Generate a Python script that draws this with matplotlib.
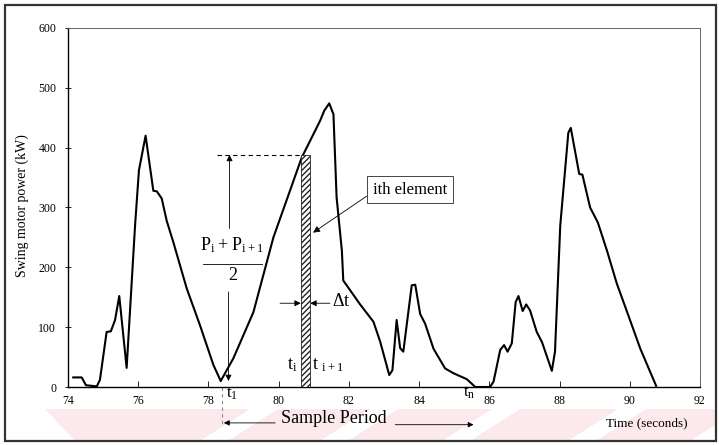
"""
Swing motor power trace with the trapezoidal-element sketch used to
integrate energy over one sample period.
"""

import matplotlib.pyplot as plt
from matplotlib.patches import Rectangle, Polygon

plt.rcParams["font.family"] = ["Liberation Serif", "DejaVu Serif"]
plt.rcParams["mathtext.fontset"] = "custom"
plt.rcParams["mathtext.rm"] = "Liberation Serif"

# ── data ─────────────────────────────────────────────────────────────────────
time_s = [74.15, 74.39, 74.51, 74.82, 74.91, 75.10, 75.22, 75.34, 75.46, 75.67,
          75.91, 76.02, 76.21, 76.43, 76.53, 76.67, 76.81, 77.00, 77.38, 77.76,
          78.14, 78.35, 78.71, 79.28, 79.85, 80.66, 80.90, 81.18, 81.30, 81.44,
          81.56, 81.65, 81.80, 81.84, 82.32, 82.70, 82.89, 83.15, 83.24, 83.36,
          83.46, 83.55, 83.79, 83.89, 84.03, 84.17, 84.41, 84.74, 84.98, 85.36,
          85.60, 86.02, 86.12, 86.31, 86.42, 86.52, 86.64, 86.75, 86.83, 86.95,
          87.05, 87.16, 87.35, 87.50, 87.78, 87.87, 88.02, 88.25, 88.32, 88.56,
          88.65, 88.87, 89.09, 89.35, 89.63, 89.92, 90.30, 90.75]
power_kw = [16, 16, 3, 1, 12, 92, 93, 112, 152, 32,
            270, 362, 420, 328, 327, 315, 278, 242, 165, 103,
            37, 10, 48, 125, 250, 384, 412, 445, 462, 474,
            456, 317, 228, 178, 138, 109, 76, 20, 28, 112,
            65, 59, 170, 171, 122, 106, 64, 31, 23, 13,
            0, 0, 9, 62, 70, 59, 73, 142, 152, 127,
            138, 128, 92, 75, 27, 59, 270, 425, 433, 356,
            355, 300, 275, 228, 173, 126, 64, 2]

x_ticks = [74, 76, 78, 80, 82, 84, 86, 88, 90, 92]
y_ticks = [0, 100, 200, 300, 400, 500, 600]

# highlighted integration element
elem_t0, elem_dt, elem_p = 80.65, 0.23, 388
t_start, t_end = 78.38, 85.45

W, H = 719, 445
fig = plt.figure(figsize=(W / 100, H / 100), dpi=100)


def fx(px):
    return px / W


def fy(py):
    return 1 - py / H


def add_bg(verts, color):
    fig.patches.append(Polygon([(fx(x), fy(y)) for x, y in verts], closed=True,
                               transform=fig.transFigure, facecolor=color,
                               edgecolor="none", zorder=-2))


# faint striped band along the bottom edge
band_top, band_bot = 409, 441
add_bg([(6, band_top), (715, band_top), (715, band_bot), (6, band_bot)], "#fce9ec")
add_bg([(6, band_top), (45, band_top), (75, band_bot), (6, band_bot)], "white")
for bx in [200, 320, 442, 568, 690]:
    add_bg([(bx, band_bot), (bx + 28, band_bot), (bx + 78, band_top), (bx + 50, band_top)],
           "white")

# outer frame
fig.patches.append(Rectangle((fx(5), fy(441)), fx(711), 436 / H,
                             transform=fig.transFigure, fill=False,
                             edgecolor="#333333", linewidth=1.6, zorder=-1))

ax = fig.add_axes([fx(68), fy(387), fx(700) - fx(68), fy(28) - fy(387)])
ax.set_facecolor("none")

ax.plot(time_s, power_kw, color="black", linewidth=1.5, zorder=3)

# trapezoid element
ax.bar(elem_t0, elem_p, width=elem_dt, align="edge", facecolor="white",
       edgecolor="#222222", hatch="//////", linewidth=0.6, zorder=4)
ax.plot([78.24, elem_t0], [elem_p, elem_p], color="black", linestyle=(0, (4, 3)),
        linewidth=0.8, zorder=2)

arrow = dict(arrowstyle="-|>", color="black", linewidth=0.6,
             mutation_scale=9, shrinkA=0, shrinkB=0)
ax.annotate("", xy=(78.6, elem_p), xytext=(78.6, 265), arrowprops=arrow)
ax.annotate("", xy=(78.57, 10), xytext=(78.57, 159), arrowprops=arrow)

ax.text(78.69, 237, r"$\mathregular{P_i + P_{i+1}}$", ha="center", va="center",
        fontsize=13)
ax.plot([77.85, 79.53], [205, 205], color="black", linewidth=0.6)
ax.text(78.69, 186, "2", ha="center", va="center", fontsize=13)

ax.annotate("ith element", xy=(80.98, 258), xytext=(83.74, 330),
            ha="center", va="center", fontsize=12,
            bbox=dict(boxstyle="square,pad=0.35", facecolor="white",
                      edgecolor="#444444", linewidth=0.7),
            arrowprops=dict(arrowstyle="-|>", color="black", linewidth=0.6,
                            mutation_scale=10, shrinkA=0, shrinkB=0,
                            relpos=(0.0, 0.35)))

ax.annotate("", xy=(elem_t0 - 0.02, 140), xytext=(80.04, 140), arrowprops=arrow)
ax.annotate("", xy=(elem_t0 + elem_dt + 0.02, 140), xytext=(81.46, 140), arrowprops=arrow)
ax.text(81.52, 143, r"$\mathregular{\Delta t}$", ha="left", va="center", fontsize=13)

ax.text(80.38, 37, r"$\mathregular{t_i}$", ha="center", va="center", fontsize=13)
ax.text(81.42, 37, r"$\mathregular{t_{\ i+1}}$", ha="center", va="center", fontsize=13)

ax.text(78.67, -12, r"$\mathregular{t_1}$", ha="center", va="center", fontsize=12)
ax.text(85.42, -10, r"$\mathregular{t_n}$", ha="center", va="center", fontsize=12)

# sample period marker below the axis
ax.plot([t_start, t_start], [0, -63], color="#888888", linestyle=(0, (3, 3)),
        linewidth=0.8, clip_on=False)
ax.text(81.58, -52, "Sample Period", ha="center", va="center", fontsize=13)
ax.annotate("", xy=(78.44, -60), xytext=(79.9, -60),
            arrowprops=dict(arrowstyle="-|>", color="black", linewidth=0.6,
                            mutation_scale=8, shrinkA=0, shrinkB=0),
            annotation_clip=False)
ax.annotate("", xy=(t_end + 0.1, -63), xytext=(83.32, -63),
            arrowprops=dict(arrowstyle="-|>", color="black", linewidth=0.6,
                            mutation_scale=8, shrinkA=0, shrinkB=0),
            annotation_clip=False)

ax.text(91.64, -60, "Time (seconds)", ha="right", va="center", fontsize=9.5)

ax.set_xlim(74, 92)
ax.set_ylim(0, 600)
ax.set_xticks(x_ticks)
ax.set_yticks(y_ticks)
ax.tick_params(axis="x", direction="in", length=4, width=0.6, labelsize=8.5, pad=6)
ax.tick_params(axis="y", direction="inout", length=5, width=0.6, labelsize=8.5, pad=6)

for side in ["left", "bottom"]:
    ax.spines[side].set_linewidth(1.0)
for side in ["top", "right"]:
    ax.spines[side].set_linewidth(0.7)
    ax.spines[side].set_color("#666666")
    ax.spines[side].set_linestyle((0, (1, 1)))

fig.text(fx(22), fy(206), "Swing motor power (kW)", rotation=90,
         ha="center", va="center", fontsize=10)

fig.savefig("out.png", dpi=100)
